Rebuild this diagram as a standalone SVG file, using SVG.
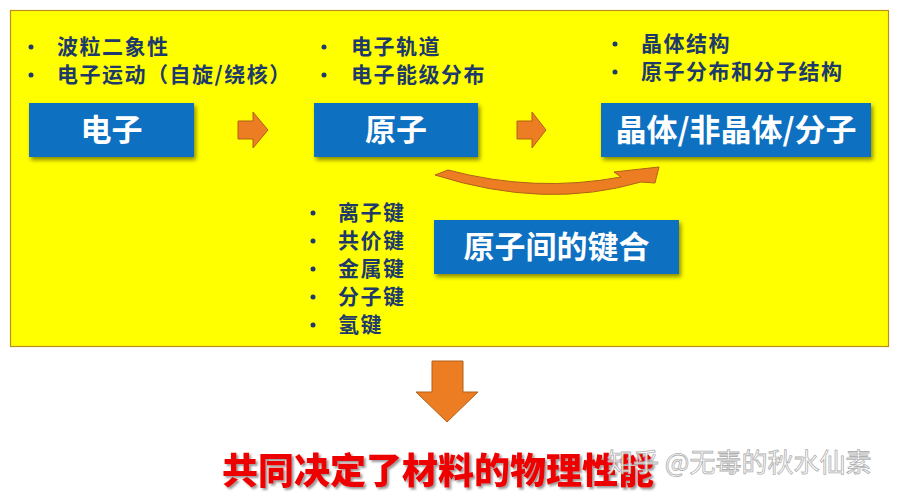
<svg xmlns="http://www.w3.org/2000/svg" width="902" height="501" viewBox="0 0 902 501">
<defs>
<filter id="sh" x="-10%" y="-20%" width="130%" height="150%">
<feDropShadow dx="2" dy="3" stdDeviation="2" flood-color="#000" flood-opacity="0.45"/>
</filter>
<filter id="tsh" x="-5%" y="-20%" width="110%" height="150%">
<feDropShadow dx="2" dy="2" stdDeviation="1.2" flood-color="#555" flood-opacity="0.6"/>
</filter>
</defs>
<style>
.box{fill:#0a70c0;filter:url(#sh)}
.bt{font-family:"Noto Sans CJK SC",sans-serif;font-weight:700;font-size:31px;fill:#fff;text-anchor:middle}
.li{font-family:"Noto Sans CJK SC",sans-serif;font-weight:700;font-size:21px;letter-spacing:1.5px;fill:#1d3a6a}
.dot{fill:#1d3a6a}
.arr{fill:#ed7d22;stroke:#b0601a;stroke-width:1}
</style>
<rect x="0" y="0" width="902" height="501" fill="#fff"/>
<rect id="panel" x="10.5" y="10.5" width="878" height="336" fill="#ffff00" stroke="#b8901a" stroke-width="1.2"/>

<g id="electron">
<rect class="box" x="29" y="103" width="165" height="54"/>
<text class="bt" x="111.5" y="141">电子</text>
<circle class="dot" cx="31" cy="47" r="2.5"/>
<circle class="dot" cx="31" cy="75" r="2.5"/>
<text class="li" x="57" y="54">波粒二象性</text>
<text class="li" x="57" y="82">电子运动（自旋/绕核）</text>
</g>

<g id="atom">
<rect class="box" x="314" y="103" width="164" height="54"/>
<text class="bt" x="396" y="141">原子</text>
<circle class="dot" cx="324" cy="47" r="2.5"/>
<circle class="dot" cx="324" cy="75" r="2.5"/>
<text class="li" x="351" y="54">电子轨道</text>
<text class="li" x="351" y="82">电子能级分布</text>
</g>

<g id="crystal">
<rect class="box" x="601" y="103" width="270" height="54"/>
<text class="bt" x="736" y="141">晶体/非晶体/分子</text>
<circle class="dot" cx="615" cy="44" r="2.5"/>
<circle class="dot" cx="615" cy="72" r="2.5"/>
<text class="li" x="641" y="51">晶体结构</text>
<text class="li" x="641" y="79">原子分布和分子结构</text>
</g>

<g id="bonding">
<rect class="box" x="434" y="220" width="245" height="54"/>
<text class="bt" x="556.5" y="258">原子间的键合</text>
<circle class="dot" cx="313" cy="213" r="2.5"/>
<circle class="dot" cx="313" cy="241" r="2.5"/>
<circle class="dot" cx="313" cy="269" r="2.5"/>
<circle class="dot" cx="313" cy="297" r="2.5"/>
<circle class="dot" cx="313" cy="325" r="2.5"/>
<text class="li" x="338" y="220">离子键</text>
<text class="li" x="338" y="248">共价键</text>
<text class="li" x="338" y="276">金属键</text>
<text class="li" x="338" y="304">分子键</text>
<text class="li" x="338" y="332">氢键</text>
</g>

<g id="connectors">
<path class="arr" d="M238 121 H253 V112 L268 130 L253 148 V139 H238 Z"/>
<path class="arr" d="M517 121 H532 V112 L546 130 L532 148 V139 H517 Z"/>
<path class="arr" d="M435 175 L448 170 Q535 193 621 177 L614 172 L659 167 L655 183 L641 182 Q545 210 435 175 Z"/>
<path class="arr" d="M432 361 H463 V392 H478 L447 422 L416 392 H432 Z"/>
</g>

<g id="result">
<text x="222" y="484" font-family="Noto Sans CJK SC,sans-serif" font-weight="900" font-size="36" fill="#ee0000" filter="url(#tsh)">共同决定了材料的物理性能</text>
</g>
<text x="607" y="472" font-family="Noto Sans CJK SC,sans-serif" font-size="26" fill="#ffffff" fill-opacity="0.85" stroke="#b0b0b0" stroke-width="0.8">知乎 @无毒的秋水仙素</text>
</svg>
